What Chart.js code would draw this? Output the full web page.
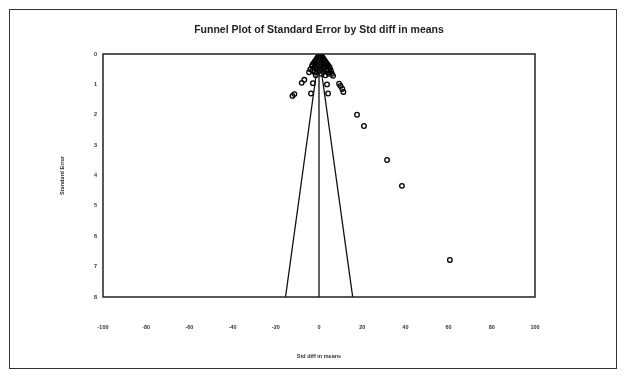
<!doctype html>
<html>
<head>
    <title>Funnel Plot</title>
    <script src="https://cdn.jsdelivr.net/npm/chart.js"></script>
    <style>
        html, body { margin: 0; padding: 0; background: #fff; }
        #wrap { width: 626px; height: 380px; }
    </style>
</head>
<body>
    <div id="wrap"><canvas id="funnel" width="626" height="380"></canvas></div>

    <script>
        // study estimates (std diff in means) and their standard errors
        const studyEffect = [
            60.6, 38.4, 31.5, 20.8, 17.6,
            -12.3, -11.4, -8.0, -6.8, -4.6, -4.0, -2.8, -3.7,
            3.7, 4.2, 9.3, 10.0, 10.8, 11.3, 6.5,
            0.5, 1.0, 0.0, -0.5, 1.5, 0.8, -1.0, 0.3, 2.0,
            -1.5, 1.0, 2.5, 0.0, -2.0, 0.5, 3.0, 1.8,
            -2.5, -0.8, 1.2, 3.5, -3.0, 0.0, 2.2, 4.0,
            -3.2, -1.5, 1.0, 3.0, 4.5, -2.2, 0.5, 2.5, 5.0,
            -1.0, 1.5, 4.0, -3.0, 0.2, 3.5, 5.5,
            -2.0, 2.0, 5.0, 1.0, 4.5, 6.0, -1.5, 3.0
        ];
        const studyStdErr = [
            6.78, 4.34, 3.49, 2.37, 2.0,
            1.38, 1.32, 0.95, 0.85, 0.6, 0.5, 0.96, 1.3,
            1.0, 1.3, 0.98, 1.05, 1.15, 1.25, 0.72,
            0.05, 0.05, 0.08, 0.1, 0.1, 0.12, 0.15, 0.15, 0.15,
            0.2, 0.2, 0.2, 0.22, 0.25, 0.25, 0.25, 0.27,
            0.3, 0.3, 0.3, 0.3, 0.35, 0.35, 0.35, 0.35,
            0.4, 0.4, 0.4, 0.4, 0.4, 0.45, 0.45, 0.45, 0.45,
            0.5, 0.5, 0.5, 0.55, 0.55, 0.55, 0.55,
            0.6, 0.6, 0.6, 0.65, 0.65, 0.65, 0.7, 0.7
        ];
        const xTicks = [-100, -80, -60, -40, -20, 0, 20, 40, 60, 80, 100];
        const yTicks = [0, 1, 2, 3, 4, 5, 6, 7, 8];
        const pooledEffect = 0;
        const funnelLeft = [{x: 0, y: 0}, {x: -15.5, y: 8}];
        const funnelRight = [{x: 0, y: 0}, {x: 15.6, y: 8}];
        const summaryMark = [{x: 0, y: 8.2}];

        const points = studyEffect.map((v, i) => ({x: v, y: studyStdErr[i]}));

        const frame = {
            id: 'frame',
            afterDraw(chart) {
                const {ctx, chartArea: a} = chart;
                ctx.save();
                ctx.strokeStyle = '#222';
                ctx.lineWidth = 1.5;
                ctx.strokeRect(a.left, a.top, a.right - a.left, a.bottom - a.top);
                ctx.lineWidth = 1;
                ctx.strokeStyle = '#333';
                ctx.strokeRect(9.5, 9.5, 607, 359);
                ctx.restore();
            }
        };

        const lineStyle = {
            type: 'line', borderColor: '#111', borderWidth: 1.3,
            pointRadius: 0, fill: false, showLine: true
        };

        const tickFont = {family: 'Liberation Sans', size: 5.5, weight: 'bold'};

        new Chart(document.getElementById('funnel'), {
            type: 'scatter',
            data: {
                datasets: [
                    Object.assign({data: funnelLeft}, lineStyle),
                    Object.assign({data: funnelRight}, lineStyle),
                    Object.assign({data: [{x: pooledEffect, y: 0}, {x: pooledEffect, y: 8}]}, lineStyle),
                    {
                        data: points,
                        pointStyle: 'circle',
                        pointRadius: 2.3,
                        borderColor: '#000',
                        borderWidth: 1.3,
                        backgroundColor: 'rgba(255,255,255,0)'
                    },
                    {
                        data: summaryMark,
                        pointStyle: 'triangle',
                        rotation: 90,
                        pointRadius: 2.5,
                        borderColor: '#000',
                        backgroundColor: '#000',
                        clip: false
                    }
                ]
            },
            options: {
                responsive: false,
                animation: false,
                layout: {padding: {left: 12, right: 0, top: 0, bottom: 0}},
                plugins: {
                    legend: {display: false},
                    tooltip: {enabled: false},
                    title: {
                        display: true,
                        text: 'Funnel Plot of Standard Error by Std diff in means',
                        font: {family: 'Liberation Sans', size: 10.5, weight: 'bold', lineHeight: 1.2},
                        color: '#222',
                        padding: {top: 23.5, bottom: 17.9}
                    }
                },
                scales: {
                    x: {
                        type: 'linear',
                        min: -100, max: 100,
                        afterBuildTicks: s => { s.ticks = xTicks.map(v => ({value: v})); },
                        afterFit: s => { s.height = 83; },
                        grid: {display: false, drawTicks: false},
                        border: {display: false},
                        ticks: {padding: 27, maxRotation: 0, color: '#333', font: tickFont},
                        title: {
                            display: true,
                            text: 'Std diff in means',
                            color: '#333',
                            font: tickFont,
                            padding: {top: 0, bottom: 20}
                        }
                    },
                    y: {
                        type: 'linear',
                        reverse: true,
                        min: 0, max: 8,
                        afterBuildTicks: s => { s.ticks = yTicks.map(v => ({value: v})); },
                        afterFit: s => { s.width = 91; },
                        grid: {display: false, drawTicks: false},
                        border: {display: false},
                        ticks: {padding: 6, color: '#333', font: tickFont},
                        title: {
                            display: true,
                            text: 'Standard Error',
                            color: '#333',
                            font: tickFont,
                            padding: {top: 47, bottom: 0}
                        }
                    },
                    yRight: {
                        type: 'linear',
                        position: 'right',
                        min: 0, max: 8,
                        afterFit: s => { s.width = 91; },
                        grid: {display: false, drawTicks: false},
                        border: {display: false},
                        ticks: {display: false}
                    }
                }
            },
            plugins: [frame]
        });
    </script>
</body>
</html>
